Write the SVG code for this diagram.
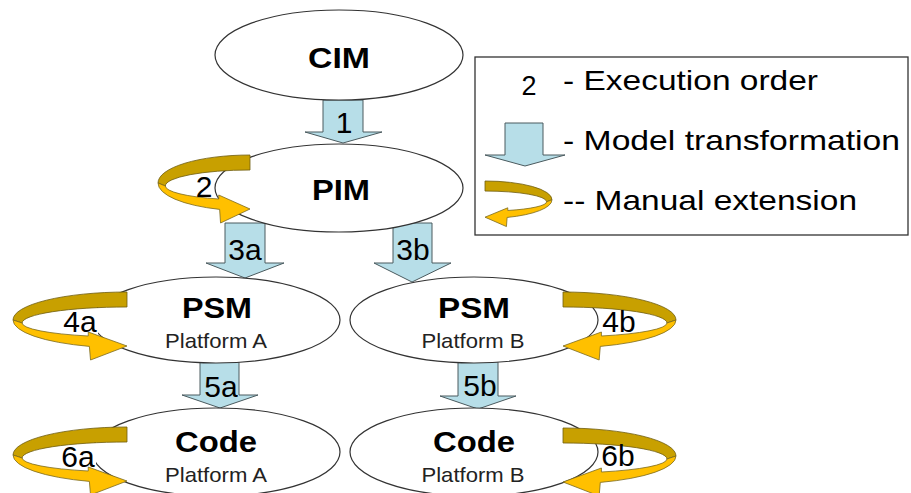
<svg xmlns="http://www.w3.org/2000/svg" xmlns:xlink="http://www.w3.org/1999/xlink" width="911" height="493" viewBox="0 0 911 493">
<style>
.node{fill:#fff;stroke:#333;stroke-width:1.2}
.blk{fill:#B7DEE8;stroke:#4a5a5e;stroke-width:1}
.lb{fill:#C8A000;stroke:#6e5d10;stroke-width:0.8;vector-effect:non-scaling-stroke}
.ly{fill:#FFC000;stroke:#7a6a20;stroke-width:0.8;vector-effect:non-scaling-stroke}
.nm{font-family:"Liberation Sans",Arial,sans-serif;font-weight:bold;font-size:29px;text-anchor:middle;fill:#000}
.pf{font-family:"Liberation Sans",Arial,sans-serif;font-size:21px;text-anchor:middle;fill:#222}
.lbl{font-family:"Liberation Sans",Arial,sans-serif;font-size:30px;text-anchor:middle;fill:#000}
.lg{font-family:"Liberation Sans",Arial,sans-serif;font-size:28px;fill:#000}
</style>
<defs>
<g id="loopShape">
<path class="lb" d="M0,0 A100 28 0 0 0 -100,28 L-92,31 A92 16 0 0 1 0,15 Z"/>
<path class="ly" d="M-100,28 A100 28 0 0 0 -33,54.4 L-32,68 L0,54 L-34,40 L-34,44 A92 14 0 0 1 -92,31 Z"/>
</g>
</defs>
<rect width="911" height="493" fill="#fff"/>
<g id="connectors">
<path class="blk" d="M323,100 H363 V132 H382 L343,143 L305,132 H323 Z"/>
<path class="blk" d="M225,223 H265 V263 H284 L245,278 L206,263 H225 Z"/>
<path class="blk" d="M393,223 H432 V263 H451 L412,282 L374,263 H393 Z"/>
<path class="blk" d="M200,362 H239 V395 H258 L220,408 L182,395 H200 Z"/>
<path class="blk" d="M458,362 H498 V396 H516 L478,409 L440,396 H458 Z"/>
<text class="lbl" x="344" y="133">1</text>
<text class="lbl" x="245" y="260">3a</text>
<text class="lbl" x="413" y="260">3b</text>
<text class="lbl" x="221" y="397">5a</text>
<text class="lbl" x="480" y="396">5b</text>
</g>
<g id="cim">
<ellipse class="node" cx="339" cy="55" rx="124" ry="45"/>
<text class="nm" x="339" y="68" textLength="62" lengthAdjust="spacingAndGlyphs">CIM</text>
</g>
<g id="pim">
<ellipse class="node" cx="339" cy="188" rx="124" ry="44"/>
<text class="nm" x="341" y="200" textLength="58" lengthAdjust="spacingAndGlyphs">PIM</text>
</g>
<g id="psmA">
<ellipse class="node" cx="216" cy="320" rx="124" ry="43"/>
<text class="nm" x="217" y="318" textLength="70" lengthAdjust="spacingAndGlyphs">PSM</text>
<text class="pf" x="216" y="348" textLength="102" lengthAdjust="spacingAndGlyphs">Platform A</text>
</g>
<g id="psmB">
<ellipse class="node" cx="474" cy="320" rx="124" ry="43"/>
<text class="nm" x="474" y="318" textLength="72" lengthAdjust="spacingAndGlyphs">PSM</text>
<text class="pf" x="473" y="348" textLength="103" lengthAdjust="spacingAndGlyphs">Platform B</text>
</g>
<g id="codeA">
<ellipse class="node" cx="216" cy="452" rx="124" ry="44"/>
<text class="nm" x="216" y="452" textLength="82" lengthAdjust="spacingAndGlyphs">Code</text>
<text class="pf" x="216" y="482" textLength="102" lengthAdjust="spacingAndGlyphs">Platform A</text>
</g>
<g id="codeB">
<ellipse class="node" cx="474" cy="452" rx="124" ry="44"/>
<text class="nm" x="474" y="452" textLength="82" lengthAdjust="spacingAndGlyphs">Code</text>
<text class="pf" x="473" y="482" textLength="103" lengthAdjust="spacingAndGlyphs">Platform B</text>
</g>
<g id="loops">
<rect x="62" y="308" width="36" height="26" fill="#fff"/>
<rect x="60" y="443" width="36" height="26" fill="#fff"/>
<use xlink:href="#loopShape" transform="translate(250,155) scale(0.92,1)"/>
<use xlink:href="#loopShape" transform="translate(127,292) scale(1.14,1)"/>
<use xlink:href="#loopShape" transform="translate(127,427) scale(1.14,1)"/>
<use xlink:href="#loopShape" transform="translate(563,292) scale(-1.13,1)"/>
<use xlink:href="#loopShape" transform="translate(563,428) scale(-1.13,1)"/>
<text class="lbl" x="204" y="197">2</text>
<text class="lbl" x="80" y="332">4a</text>
<text class="lbl" x="619" y="332">4b</text>
<text class="lbl" x="78" y="467">6a</text>
<text class="lbl" x="618" y="466">6b</text>
</g>
<g id="legend">
<rect x="475" y="57" width="433" height="178" fill="#fff" stroke="#333" stroke-width="1.3"/>
<text class="lbl" x="529" y="95" style="font-size:27px">2</text>
<text class="lg" x="563" y="90" textLength="255" lengthAdjust="spacingAndGlyphs">- Execution order</text>
<path class="blk" d="M505,123 H543 V155 H565 L525,166 L485,155 H505 Z"/>
<text class="lg" x="563" y="150" textLength="337" lengthAdjust="spacingAndGlyphs">- Model transformation</text>
<use xlink:href="#loopShape" transform="translate(485,181) scale(-0.67,0.67)"/>
<text class="lg" x="563" y="210" textLength="294" lengthAdjust="spacingAndGlyphs">-- Manual extension</text>
</g>
</svg>
